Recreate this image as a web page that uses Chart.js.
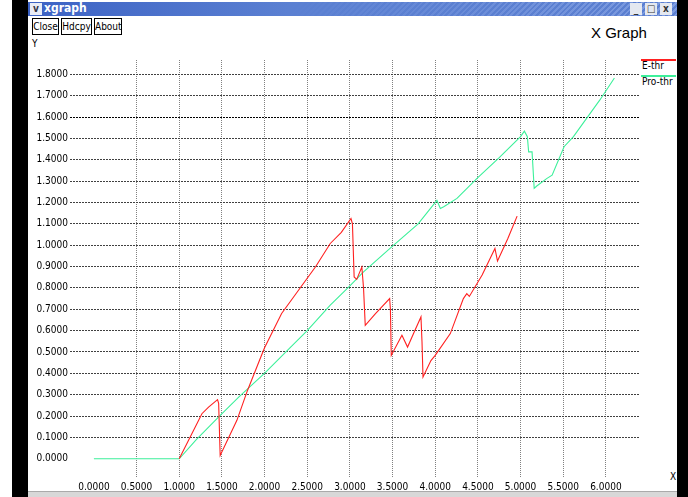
<!DOCTYPE html>
<html>
<head>
<meta charset="utf-8">
<script src="https://cdn.jsdelivr.net/npm/chart.js@4"></script>
<style>
  body { margin: 0; width: 688px; height: 497px; overflow: hidden; background: #fff; position: relative;
         font-family: "Liberation Sans Narrow", "DejaVu Sans Condensed", "Liberation Sans", sans-serif; }
  .abs { position: absolute; }
  #leftbar { left: 12px; top: 0; width: 16px; height: 497px; background: #000; }
  #rightbar { left: 677px; top: 0; width: 11px; height: 497px; background: #000; }
  #titlebar { left: 28px; top: 2px; width: 649px; height: 14px;
              background: linear-gradient(90deg, #3c62c4 0, #5b80d2 40%, rgba(0,0,0,0) 100%),
                          repeating-linear-gradient(135deg, #5b7fd0 0 2px, #7e9ce0 2px 4px); }
  #titlebar .name { position: absolute; left: 16px; top: -1px; color: #fff; font-weight: bold; font-size: 12px; }
  #titlebar .menu { position: absolute; left: 2px; top: 1px; width: 12px; height: 12px; background: #e8ecf6;
                    color: #334; font-size: 10px; line-height: 12px; text-align: center; font-weight: bold; }
  #titlebar .wb { position: absolute; top: 1px; width: 12px; height: 12px; background: #e4e8f0;
                  color: #333; font-size: 10px; line-height: 12px; text-align: center; font-weight: bold; }
  .btn { top: 18px; height: 17px; border: 1px solid #000; background: #fff; font-size: 10px;
         line-height: 16px; text-align: center; box-sizing: border-box; }
  #bottom { left: 28px; top: 491px; width: 649px; height: 6px; background: #d8d8d8; border-top: 1px solid #aaa; }
  canvas { position: absolute; left: 0; top: 0; }
</style>
</head>
<body>
<div id="leftbar" class="abs"></div>
<div id="rightbar" class="abs"></div>
<div id="titlebar" class="abs">
  <div class="menu">v</div>
  <div class="name">xgraph</div>
  <div class="wb" style="left:602px">_</div>
  <div class="wb" style="left:617px">&#9633;</div>
  <div class="wb" style="left:632px">x</div>
</div>
<div class="abs btn" style="left:32px;width:27px">Close</div>
<div class="abs btn" style="left:61px;width:31px">Hdcpy</div>
<div class="abs btn" style="left:94px;width:28px">About</div>
<div class="abs" style="left:32px;top:38px;font-size:10px">Y</div>
<div class="abs" style="left:591px;top:24px;font-size:15px;font-family:'Liberation Sans',sans-serif">X Graph</div>
<div class="abs" style="left:670px;top:471px;font-size:10px">X</div>
<div class="abs" style="left:641px;top:59px;width:35px;height:2px;background:#ff2020"></div>
<div class="abs" style="left:642px;top:60px;font-size:10px">E-thr</div>
<div class="abs" style="left:641px;top:75px;width:35px;height:2px;background:#3cf09a"></div>
<div class="abs" style="left:642px;top:76px;font-size:10px">Pro-thr</div>
<div id="bottom" class="abs"></div>
<canvas id="graph" width="688" height="497"></canvas>
<script>
const xTicks = [0, 0.5, 1, 1.5, 2, 2.5, 3, 3.5, 4, 4.5, 5, 5.5, 6];
const yTicks = [0, 0.1, 0.2, 0.3, 0.4, 0.5, 0.6, 0.7, 0.8, 0.9, 1.0, 1.1, 1.2, 1.3, 1.4, 1.5, 1.6, 1.7, 1.8];

const eThrX = [1.0, 1.266, 1.344, 1.449, 1.462, 1.48, 1.676, 1.80, 1.94, 2.0, 2.2, 2.4, 2.6, 2.77, 2.9, 3.013, 3.03, 3.05,
  3.08, 3.14, 3.16, 3.18, 3.3, 3.466, 3.475, 3.485, 3.61, 3.676, 3.75, 3.833, 3.845, 3.857, 3.95, 4.0, 4.177, 4.33,
  4.37, 4.40, 4.55, 4.70, 4.73, 4.85, 4.96];
const eThrY = [0.0, 0.211, 0.242, 0.277, 0.26, 0.015, 0.18, 0.32, 0.46, 0.52, 0.68, 0.79, 0.90, 1.008, 1.06, 1.125, 1.10, 0.851,
  0.84, 0.898, 0.80, 0.625, 0.68, 0.750, 0.70, 0.484, 0.578, 0.523, 0.59, 0.664, 0.55, 0.383, 0.46, 0.484, 0.586, 0.75,
  0.773, 0.76, 0.86, 0.985, 0.926, 1.03, 1.136];

const proThrX = [0, 1.0, 1.2, 1.46, 1.7, 2.008, 2.3, 2.5, 2.77, 3.0, 3.16, 3.49, 3.8, 4.02, 4.06, 4.1, 4.255, 4.49, 4.75,
  5.0, 5.045, 5.08, 5.095, 5.135, 5.16, 5.19, 5.31, 5.37, 5.51, 5.62, 5.93, 6.10];
const proThrY = [0, 0, 0.09, 0.195, 0.29, 0.403, 0.52, 0.60, 0.719, 0.81, 0.875, 0.992, 1.10, 1.21, 1.172, 1.18, 1.219, 1.313, 1.41,
  1.508, 1.534, 1.508, 1.437, 1.437, 1.266, 1.277, 1.313, 1.328, 1.461, 1.508, 1.68, 1.783];

function pts(xs, ys) {
  return xs.map((x, i) => ({ x: x, y: ys[i] }));
}

const tickFont = { family: "'Liberation Sans Narrow', 'DejaVu Sans Condensed', sans-serif", size: 10 };

new Chart(document.getElementById("graph").getContext("2d"), {
  type: "line",
  data: {
    datasets: [
      { label: "E-thr", data: pts(eThrX, eThrY), borderColor: "#ff2020", borderWidth: 1.1, pointRadius: 0, tension: 0 },
      { label: "Pro-thr", data: pts(proThrX, proThrY), borderColor: "#3cf09a", borderWidth: 1.1, pointRadius: 0, tension: 0 }
    ]
  },
  options: {
    responsive: false,
    animation: false,
    layout: { padding: { left: 0, right: 48, top: 60, bottom: 0 } },
    plugins: { legend: { display: false }, tooltip: { enabled: false } },
    scales: {
      x: {
        type: "linear",
        min: -0.28,
        max: 6.40,
        afterBuildTicks: s => { s.ticks = xTicks.map(v => ({ value: v })); },
        afterFit: s => { s.height = 19; },
        grid: {
          drawTicks: false,
          color: c => (c.tick && c.tick.value === 0) ? "rgba(0,0,0,0)" : "#808080"
        },
        border: { display: false, dash: [1, 1] },
        ticks: { color: "#000", font: tickFont, padding: 3, maxRotation: 0, callback: v => v.toFixed(4) }
      },
      y: {
        type: "linear",
        min: -0.09,
        max: 1.867,
        afterBuildTicks: s => { s.ticks = yTicks.map(v => ({ value: v })); },
        afterFit: s => { s.width = 70; },
        grid: {
          drawTicks: false,
          color: c => {
            if (!c.tick || c.tick.value === 0) return "rgba(0,0,0,0)";
            return Math.abs(c.tick.value - 1.6) < 1e-6 ? "#000" : "#404040";
          }
        },
        border: { display: false, dash: [2, 1] },
        ticks: { color: "#000", font: tickFont, padding: 2, callback: v => v.toFixed(4) }
      }
    }
  }
});
</script>
</body>
</html>
